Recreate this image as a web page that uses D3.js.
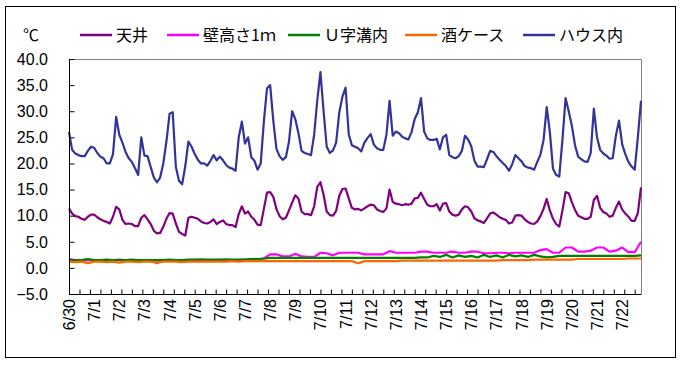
<!DOCTYPE html>
<html><head><meta charset="utf-8">
<script src="https://cdn.jsdelivr.net/npm/d3@7"></script>
<style>body{margin:0;background:#fff}svg{display:block}</style>
</head><body><svg id="c" width="681" height="367"></svg>
<script>
const seriesNames = ["天井","壁高さ1ｍ","Ｕ字溝内","酒ケース","ハウス内"];
const seriesColors = ["#800080","#FF00FF","#008000","#FF6600","#333399"];
const dateLabels = ["6/30","7/1","7/2","7/3","7/4","7/5","7/6","7/7","7/8","7/9","7/10","7/11","7/12","7/13","7/14","7/15","7/16","7/17","7/18","7/19","7/20","7/21","7/22"];
const yTicks = [40,35,30,25,20,15,10,5,0,-5];
const unitLabel = "℃";
const stepMain = 3;   // hours between samples (天井, ハウス内)
const stepLow = 6;    // hours between samples (low series)
const totalHours = 546;
const tickEveryHours = 10;

const house = [26.0,22.6,21.9,21.6,21.4,21.4,22.4,23.2,23.0,22.0,
21.3,21.0,20.0,20.0,21.8,28.9,25.5,24.0,22.2,21.0,
20.3,19.1,17.8,25.0,21.5,21.4,19.3,17.3,16.4,17.3,
20.0,24.2,29.5,29.8,19.3,16.7,16.0,19.5,24.2,23.2,
21.8,20.7,20.0,20.0,19.6,20.5,21.6,20.6,21.3,20.6,
19.7,19.2,19.0,18.6,25.0,28.0,23.8,25.0,21.2,20.5,
18.8,20.0,28.0,34.4,35.0,28.2,22.8,21.4,20.7,21.2,
24.2,30.0,28.5,25.8,22.4,22.0,21.8,21.6,25.5,32.1,
37.5,30.0,23.2,22.0,22.5,24.0,29.8,32.8,34.5,25.6,
23.5,23.2,22.9,22.3,24.0,24.9,25.6,23.6,22.9,22.6,
22.6,25.5,32.0,25.3,26.1,25.8,25.1,24.8,24.6,26.0,
28.5,29.8,32.5,26.1,24.8,24.5,24.5,24.7,22.7,25.0,
25.5,21.6,21.2,21.0,21.4,22.4,25.3,24.6,23.3,20.5,
19.4,19.4,19.3,20.8,22.4,22.2,21.4,20.7,20.1,19.5,
18.6,19.8,21.6,21.0,20.4,19.5,19.2,19.1,18.8,20.3,
21.7,24.5,30.8,26.0,19.0,17.8,17.5,24.5,32.5,30.0,
27.2,23.5,21.3,20.8,20.4,20.3,22.0,30.5,25.0,22.6,
21.9,21.5,20.9,21.0,25.3,28.2,23.7,21.8,20.3,19.4,
18.8,25.0,32.0];

const ceiling = [11.4,10.4,9.9,9.8,9.4,9.2,9.8,10.2,10.2,9.7,
9.3,9.0,8.8,8.5,9.8,11.7,11.2,9.2,8.4,8.5,
8.4,8.0,8.0,9.6,10.1,9.3,8.4,7.1,6.6,6.7,
7.9,9.4,10.5,10.4,8.5,6.9,6.5,6.2,9.6,9.8,
9.6,9.4,8.9,8.6,8.5,8.8,9.3,8.4,8.8,9.1,
8.4,8.2,8.2,7.8,10.3,11.8,10.4,10.8,9.8,9.2,
8.3,8.2,11.3,14.4,14.5,13.6,11.3,9.9,9.3,9.6,
11.0,12.5,13.9,13.3,10.8,10.3,10.3,10.1,11.8,15.5,
16.4,14.0,10.8,10.1,10.0,10.9,13.8,15.1,15.2,13.3,
11.5,11.2,11.3,11.0,11.4,11.8,12.1,12.0,11.2,10.9,
10.7,11.4,15.0,12.6,12.3,12.2,12.0,12.2,12.1,12.3,
13.3,13.4,14.4,13.2,12.1,11.8,11.8,12.2,11.0,12.3,
12.4,10.8,10.2,10.0,10.2,11.2,11.8,11.6,10.8,9.5,
9.1,8.9,8.6,9.5,10.4,10.6,10.2,9.7,9.4,9.2,
8.5,8.7,10.0,10.1,10.0,9.3,8.8,8.5,8.4,8.9,
9.9,11.3,13.2,11.0,9.4,8.4,7.9,11.0,14.5,14.3,
12.6,11.1,10.0,9.7,9.4,9.4,9.8,13.0,13.8,11.5,
10.7,10.4,9.8,10.0,11.5,12.7,11.2,10.4,9.8,9.0,
9.0,10.5,15.4];

const wall = [1.7,1.5,1.5,1.5,1.5,1.5,1.5,1.5,1.6,1.5,
1.5,1.5,1.5,1.5,0.9,1.5,1.5,1.5,1.5,1.5,
1.5,1.6,1.5,1.5,1.5,1.6,1.5,1.5,1.6,1.6,
1.6,1.8,2.6,2.6,2.2,2.2,2.7,2.2,2.1,2.1,
2.9,2.8,2.4,2.9,2.9,2.9,2.9,2.6,2.6,2.6,
2.6,3.2,2.9,2.9,2.9,2.9,3.1,3.1,2.9,2.9,
2.9,3.1,2.9,2.9,3.1,3.1,2.8,2.8,2.9,2.9,
2.8,2.9,2.9,2.9,2.9,3.4,3.6,2.9,2.9,3.9,
3.9,3.1,3.1,3.3,3.9,3.9,3.1,3.3,3.9,3.0,
3.0,5.0];

const ditch = [1.5,1.5,1.5,1.7,1.5,1.5,1.6,1.5,1.5,1.5,
1.6,1.5,1.5,1.5,1.5,1.5,1.6,1.5,1.5,1.6,
1.6,1.6,1.6,1.6,1.6,1.6,1.6,1.6,1.6,1.7,
1.7,1.8,1.9,1.9,1.9,1.9,1.9,1.9,1.9,1.9,
1.9,1.9,1.9,1.9,1.9,1.9,1.9,1.9,1.9,1.9,
1.9,1.9,1.9,1.9,1.9,1.9,2.0,2.0,2.3,2.1,
2.5,2.0,2.4,2.1,2.3,2.0,2.5,2.1,2.4,2.0,
2.5,2.2,2.4,2.1,2.5,2.2,2.0,2.1,2.3,2.3,
2.3,2.3,2.3,2.3,2.3,2.3,2.3,2.3,2.3,2.3,
2.3,2.4];

const sake = [1.2,1.1,1.2,0.9,1.2,1.2,1.1,1.2,1.0,1.2,
1.2,1.1,1.2,1.2,1.0,1.2,1.2,1.2,1.1,1.2,
1.2,1.2,1.2,1.2,1.2,1.2,1.3,1.2,1.3,1.3,
1.3,1.3,1.3,1.3,1.3,1.3,1.3,1.3,1.3,1.3,
1.3,1.3,1.3,1.3,1.3,1.3,0.9,1.3,1.3,1.3,
1.3,1.3,1.3,1.4,1.4,1.4,1.4,1.4,1.4,1.4,
1.4,1.4,1.4,1.4,1.4,1.4,1.4,1.4,1.4,1.5,
1.5,1.5,1.5,1.5,1.6,1.6,1.6,1.6,1.6,1.6,
1.6,1.7,1.7,1.7,1.7,1.7,1.7,1.7,1.7,1.8,
1.8,1.8];

const series = [
  {values: ceiling, step: stepMain},
  {values: wall, step: stepLow},
  {values: ditch, step: stepLow},
  {values: sake, step: stepLow},
  {values: house, step: stepMain}
];

const svg = d3.select("#c");
const pL = 69, pR = 641, pT = 59, pB = 294;
const numFont = "'Liberation Sans', Arial, sans-serif";
const jpFont = "'Noto Sans CJK JP', sans-serif";

svg.append("rect").attr("x",5.5).attr("y",6.5).attr("width",670).attr("height",351)
  .attr("fill","#fff").attr("stroke","#000").attr("stroke-width",1);

const x = d3.scaleLinear().domain([0, totalHours]).range([pL, pR]);
const y = d3.scaleLinear().domain([-5, 40]).range([pB, pT]);

// plot frame (top/right grey)
svg.append("path").attr("d", `M${pL},${pT+0.5}H${pR+0.5}V${pB}`)
  .attr("fill","none").attr("stroke","#808080").attr("stroke-width",1);

// lines
const gLines = svg.append("g");
series.forEach((s, k) => {
  const line = d3.line().x((d,i) => x(i*s.step)).y(d => y(d));
  gLines.append("path").datum(s.values).attr("d", line)
    .attr("fill","none").attr("stroke", seriesColors[k]).attr("stroke-width", 2.2)
    .attr("stroke-linejoin","round");
});

// y axis
const yAxis = d3.axisRight(y).tickValues(yTicks).tickSize(5).tickFormat("");
const gy = svg.append("g").attr("transform", `translate(${pL+0.5},0)`).call(yAxis);
gy.select(".domain").attr("stroke","#000").attr("d", `M0,${pT}V${pB+0.5}`);
gy.selectAll(".tick line").attr("stroke","#000");
svg.append("g").selectAll("text").data(yTicks).join("text")
  .attr("x", 48).attr("y", d => y(d)).attr("dy","0.36em")
  .attr("text-anchor","end").attr("font-family", numFont).attr("font-size", 16)
  .attr("fill","#000").text(d => d3.format(".1f")(d).replace("-","−"));

// x axis
const xTickVals = d3.range(0, totalHours + 0.1, tickEveryHours);
const xAxis = d3.axisTop(x).tickValues(xTickVals).tickSize(5).tickFormat("");
const gx = svg.append("g").attr("transform", `translate(0,${pB+0.5})`).call(xAxis);
gx.select(".domain").attr("stroke","#000").attr("d", `M${pL},0H${pR+0.5}`);
gx.selectAll(".tick line").attr("stroke","#000");
svg.append("g").selectAll("text").data(dateLabels).join("text")
  .attr("transform", (d,i) => `translate(${x(i*24)+6},${pB+5}) rotate(-90)`)
  .attr("text-anchor","end").attr("font-family", numFont).attr("font-size", 16)
  .attr("fill","#000").text(d => d);

// legend
svg.append("text").attr("x", 23).attr("y", 35).attr("dy","0.35em")
  .attr("font-family", jpFont).attr("font-size", 16).text(unitLabel);
const legendX = [80, 167, 288, 405, 523];
seriesNames.forEach((n, k) => {
  svg.append("line").attr("x1", legendX[k]).attr("x2", legendX[k]+32)
    .attr("y1", 35).attr("y2", 35).attr("stroke", seriesColors[k]).attr("stroke-width", 2.5);
  svg.append("text").attr("x", legendX[k]+36).attr("y", 35).attr("dy","0.35em")
    .attr("font-family", jpFont).attr("font-size", 16).attr("fill","#000").text(n);
});
</script></body></html>
